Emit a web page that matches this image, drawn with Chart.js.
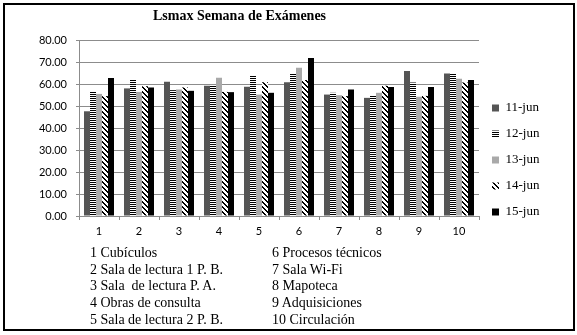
<!DOCTYPE html>
<html>
<head>
<meta charset="utf-8">
<script src="https://cdn.jsdelivr.net/npm/chart.js@4"></script>
<style>
  html, body { margin: 0; padding: 0; background: #fff; }
  #wrap { position: relative; width: 577px; height: 335px; overflow: hidden; }
  #frame { position: absolute; left: 3px; top: 3px; width: 568px; height: 324px; border: 2px solid #000; box-sizing: content-box; }
  canvas { position: absolute; left: 0; top: 0; }
  #title { position: absolute; left: 153px; top: 8px; font: bold 14px "Liberation Serif", "Times New Roman", serif; color: #000; white-space: pre; }
  .note { position: absolute; font: 14px/16.7px "Liberation Serif", "Times New Roman", serif; color: #000; white-space: pre; }
</style>
</head>
<body>
<div id="wrap">
  <canvas id="c" width="577" height="335"></canvas>
  <div id="frame"></div>
  <div id="title"></div>
  <div id="notes1" class="note" style="left:90px; top:245px;"></div>
  <div id="notes2" class="note" style="left:272px; top:245px;"></div>
</div>
<script>
const chartTitle = "Lsmax Semana de Exámenes";
const categories = ["1", "2", "3", "4", "5", "6", "7", "8", "9", "10"];
const categoryNames = [
  "1 Cubículos",
  "2 Sala de lectura 1 P. B.",
  "3 Sala  de lectura P. A.",
  "4 Obras de consulta",
  "5 Sala de lectura 2 P. B.",
  "6 Procesos técnicos",
  "7 Sala Wi-Fi",
  "8 Mapoteca",
  "9 Adquisiciones",
  "10 Circulación"
];
const seriesLabels = ["11-jun", "12-jun", "13-jun", "14-jun", "15-jun"];
const jun11 = [47.6, 58.0, 61.0, 59.2, 58.7, 60.8, 55.2, 53.7, 65.9, 64.8];
const jun12 = [56.6, 61.9, 57.2, 59.2, 64.0, 64.5, 56.0, 54.9, 60.7, 64.8];
const jun13 = [55.5, 56.4, 57.5, 62.8, 55.2, 67.4, 54.9, 56.0, 54.2, 62.4];
const jun14 = [54.5, 59.0, 58.4, 56.4, 60.8, 61.8, 54.5, 59.2, 54.6, 60.7];
const jun15 = [62.7, 58.4, 56.9, 56.3, 56.0, 71.8, 57.5, 58.6, 58.6, 61.8];
const yTicks = [0, 10, 20, 30, 40, 50, 60, 70, 80];

document.getElementById('title').textContent = chartTitle;
document.getElementById('notes1').textContent = categoryNames.slice(0, 5).join('\n');
document.getElementById('notes2').textContent = categoryNames.slice(5).join('\n');

function makePattern(w, h, fn) {
  const c = document.createElement('canvas');
  c.width = w; c.height = h;
  const x = c.getContext('2d');
  const img = x.createImageData(w, h);
  for (let j = 0; j < h; j++) for (let i = 0; i < w; i++) {
    const v = fn(i, j) ? 0 : 255;
    const k = (j * w + i) * 4;
    img.data[k] = v; img.data[k + 1] = v; img.data[k + 2] = v; img.data[k + 3] = 255;
  }
  x.putImageData(img, 0, 0);
  return document.getElementById('c').getContext('2d').createPattern(c, 'repeat');
}
const hStripes = makePattern(4, 2, (i, j) => j === 0);
const dStripes = makePattern(5, 5, (i, j) => { const m = ((i - j) % 5 + 5) % 5; return m === 0 || m === 1; });

const seriesData = [jun11, jun12, jun13, jun14, jun15];
const fills = ['#555555', hStripes, '#a9a9a9', dStripes, '#000000'];

const gridColor = '#8c8c8c';
const sansFont = { family: 'Lato, "Liberation Sans", sans-serif', size: 11 };

const legendWidth = {
  id: 'legendWidth',
  beforeLayout(chart) {
    const l = chart.legend;
    if (l && !l._wrappedFit) {
      const f = l.fit;
      l.fit = function () { f.call(this); this.width = 98; };
      l._wrappedFit = true;
    }
  }
};

new Chart(document.getElementById('c'), {
  type: 'bar',
  data: {
    labels: categories,
    datasets: seriesLabels.map((lab, i) => ({
      label: lab,
      data: seriesData[i],
      backgroundColor: fills[i],
      borderWidth: 0,
      categoryPercentage: 0.75,
      barPercentage: 1.0
    }))
  },
  options: {
    responsive: false,
    animation: false,
    devicePixelRatio: 1,
    layout: { padding: { top: 40, bottom: 55, left: 0, right: 0 } },
    plugins: {
      title: { display: false },
      tooltip: { enabled: false },
      legend: {
        position: 'right',
        align: 'center',
        labels: {
          boxWidth: 7,
          boxHeight: 7,
          padding: 13,
          color: '#000',
          font: { family: '"Liberation Serif", "Times New Roman", serif', size: 13 }
        }
      }
    },
    scales: {
      x: {
        grid: { display: true, drawOnChartArea: false, drawTicks: true, tickLength: 4, color: gridColor, offset: true },
        border: { display: true, color: gridColor },
        ticks: { color: '#000', font: sansFont, padding: 5 },
        afterFit(s) { s.height = 64; }
      },
      y: {
        min: 0, max: 80,
        afterBuildTicks(s) { s.ticks = yTicks.map(v => ({ value: v })); },
        grid: { color: gridColor, tickLength: 3, drawTicks: true },
        border: { display: true, color: gridColor },
        ticks: { color: '#000', font: sansFont, padding: 9, callback: v => Number(v).toFixed(2) },
        afterFit(s) { s.width = 79; }
      }
    }
  },
  plugins: [legendWidth]
});
</script>
</body>
</html>
